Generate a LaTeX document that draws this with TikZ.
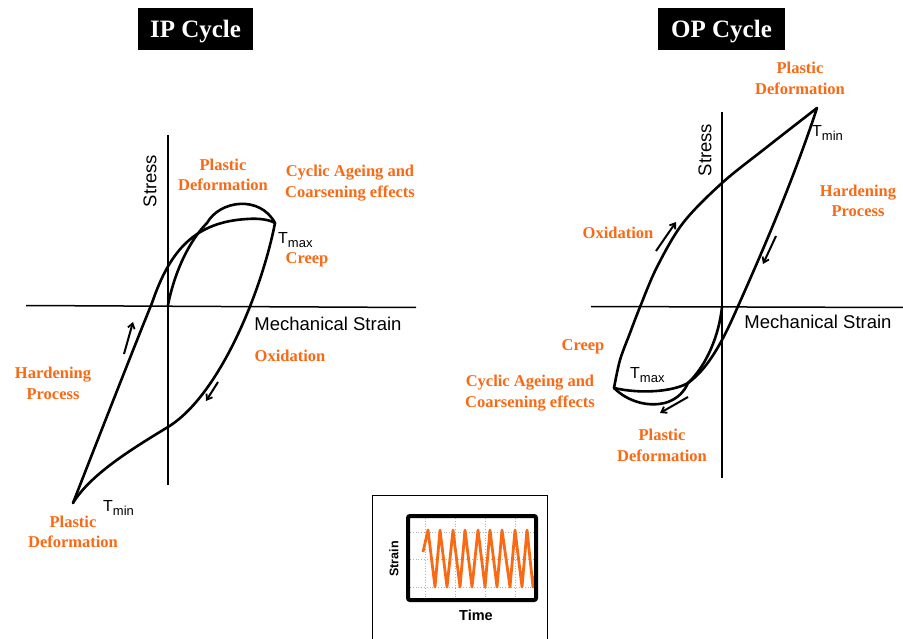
\documentclass[tikz,border=0pt]{standalone}
\usepackage{fontspec}
\setmainfont{Liberation Serif}
\setsansfont{Liberation Sans}
\usetikzlibrary{arrows.meta}
\definecolor{lblorange}{RGB}{250,105,20}
\begin{document}
\begin{tikzpicture}[x=1pt,y=-1pt,
  curve/.style={line width=2.6pt, line join=round, line cap=round},
  axisline/.style={line width=1.5pt},
  lbl/.style={text=lblorange, font=\bfseries\fontsize{16.5}{20.5}\selectfont, align=center, inner sep=0pt},
  axlbl/.style={font=\sffamily\fontsize{18.5}{22}\selectfont, inner sep=0pt},
  tlbl/.style={font=\sffamily\fontsize{16}{18}\selectfont, inner sep=0pt, anchor=west},
  titlebox/.style={fill=black, text=white, font=\bfseries\fontsize{25}{28}\selectfont, inner sep=0pt, text height=17pt, text depth=0pt},
  harr/.style={line width=2pt, -{Straight Barb[length=5pt,width=7pt,line width=1.8pt]}},
]
\useasboundingbox (0,0) rectangle (903,639);
\fill[white] (0,0) rectangle (903,639);

% ---------- titles ----------
\node[titlebox, minimum width=115pt, minimum height=42pt] (ipt) at (195.5,29) {IP Cycle};
\node[titlebox, minimum width=127pt, minimum height=42pt] (opt) at (721.5,29) {OP Cycle};

% ================= IP cycle =================
\draw[axisline] (168,135) -- (168,485);
\draw[axisline] (26,305.5) -- (416,307.5);
\coordinate (ipmin) at (73,503);
\coordinate (ipmax) at (275,223);
% rising branch
\draw[curve] (ipmin) .. controls (98,439) and (140,332) .. (152,303)
  .. controls (170,250) and (195,222) .. (247,219)
  .. controls (260,218) and (270,220) .. (ipmax);
% initial loading with bump
\draw[curve] (168,305) .. controls (175,270) and (190,240) .. (207,223)
  .. controls (220,200) and (260,195) .. (ipmax);
% descending branch
\draw[curve] (ipmax) .. controls (262,290) and (220,395) .. (168,427)
  .. controls (130,450) and (90,475) .. (ipmin);
% direction arrows
\draw[harr] (124,354) -- (133,322);
\draw[harr] (218,382) -- (206,401);

\node[axlbl, rotate=90] (ipstress) at (150,181) {Stress};
\node[axlbl] (ipstrain) at (328,324) {Mechanical Strain};
\node[tlbl] (iptmax) at (278,240) {T\raisebox{-4pt}{\fontsize{13}{14}\selectfont max}};
\node[tlbl] (iptmin) at (103,508) {T\raisebox{-4pt}{\fontsize{13}{14}\selectfont min}};
\node[lbl] (ippd1) at (223,175) {Plastic\\Deformation};
\node[lbl] (ipcyc) at (350,183) {Cyclic Ageing and\\Coarsening effects};
\node[lbl] (ipcreep) at (307,260) {Creep};
\node[lbl] (ipox) at (290,356) {Oxidation};
\node[lbl] (iphard) at (53,383.5) {Hardening\\Process};
\node[lbl] (ippd2) at (73,532) {Plastic\\Deformation};

% ================= OP cycle =================
\draw[axisline] (722,112) -- (722,478);
\draw[axisline] (591,306.5) -- (903,307.5);
\coordinate (opmin) at (817,108);
\coordinate (opmax) at (614,388);
\coordinate (opj) at (688,383);
% rising branch
\draw[curve] plot[smooth, tension=0.55] coordinates {(614,388) (620,360) (630,333) (640,307) (657,267) (683,223) (722,183) (767,147) (817,108)};
% descending branch
\draw[curve] (opmin) .. controls (790,190) and (755,268) .. (735,313)
  .. controls (720,347) and (706,370) .. (opj);
% initial loading
\draw[curve] (722,307) .. controls (719,335) and (707,365) .. (opj);
% bottom curves
\draw[curve] (opmax) .. controls (640,394) and (672,392) .. (opj);
\draw[curve] (opmax) .. controls (628,402) and (650,408) .. (668,402) .. controls (678,398) and (684,392) .. (opj);
% direction arrows
\draw[harr] (656,251) -- (676,222);
\draw[harr] (776,236) -- (763,264);
\draw[harr] (688,397) -- (660,413);

\node[axlbl, rotate=90] (opstress) at (705,150) {Stress};
\node[axlbl] (opstrain) at (818,322) {Mechanical Strain};
\node[tlbl] (optmin) at (812,133) {T\raisebox{-4pt}{\fontsize{13}{14}\selectfont min}};
\node[tlbl] (optmax) at (630,375) {T\raisebox{-4pt}{\fontsize{13}{14}\selectfont max}};
\node[lbl] (oppd1) at (800,78.5) {Plastic\\Deformation};
\node[lbl] (ophard) at (858,201) {Hardening\\Process};
\node[lbl] (opox) at (618,233) {Oxidation};
\node[lbl] (opcreep) at (583,347) {Creep};
\node[lbl] (opcyc) at (530,393) {Cyclic Ageing and\\Coarsening effects};
\node[lbl] (oppd2) at (662,445.5) {Plastic\\Deformation};

% ================= inset =================
\draw[line width=0.9pt] (372,645) -- (372,495) -- (547,495) -- (547,645);
\foreach \gx in {425,455,485,515} \draw[gray!60, dotted, line width=0.8pt] (\gx,518) -- (\gx,598);
\foreach \gy in {532,559,587} \draw[gray!60, dotted, line width=0.8pt] (410,\gy) -- (534,\gy);
\draw[lblorange, line width=2.8pt, line join=round] (423,552) -- (428,530) -- (435,587) -- (440,530) -- (447,587) -- (453,530) -- (460,587) -- (465,530) -- (472,587) -- (478,530) -- (485,587) -- (490,530) -- (497,587) -- (502,530) -- (510,587) -- (515,530) -- (522,587) -- (527,530) -- (533,587) -- (536,572);
\draw[line width=4pt, rounded corners=2pt] (408,516) rectangle (536,600);
\node[font=\sffamily\bfseries\fontsize{12.5}{14}\selectfont, rotate=90, inner sep=0pt] (instrain) at (394,559) {Strain};
\node[font=\sffamily\bfseries\fontsize{14.5}{16}\selectfont, inner sep=0pt] (intime) at (476,615) {Time};
\end{tikzpicture}
\end{document}
